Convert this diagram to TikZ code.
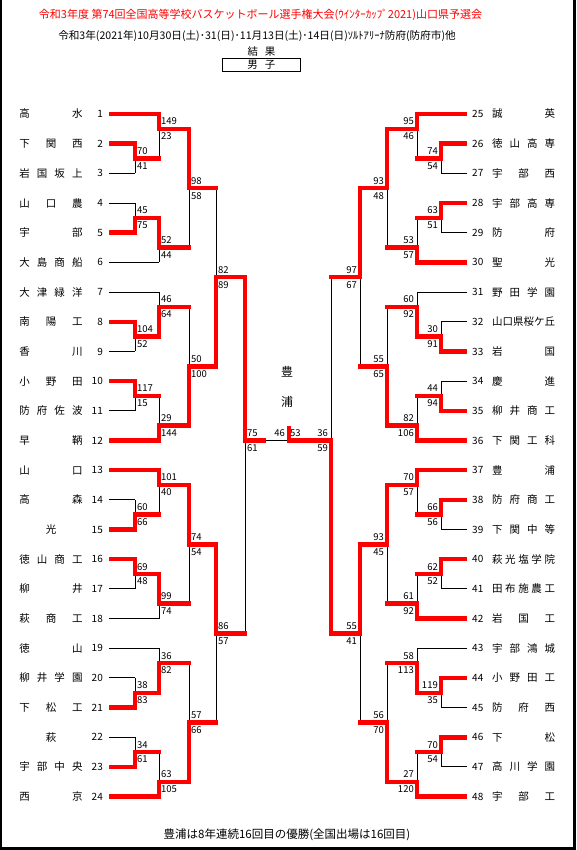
\documentclass[tikz,border=0pt]{standalone}
\usepackage{fontspec}
\setmainfont{Noto Sans CJK JP}
\definecolor{wred}{RGB}{255,0,0}
\tikzset{
  link/.style={black, line width=1pt},
  win/.style={wred, line width=4.5pt, line cap=rect, line join=miter},
  scl/.style={inner sep=0pt, font=\fontsize{9.5}{10}\selectfont},
  tname/.style={inner sep=0pt, font=\fontsize{10.5}{11}\selectfont},
  tnum/.style={inner sep=0pt, font=\fontsize{10}{11}\selectfont},
}
\newcommand\mygrp[1]{%
 \draw[link] (109,#1) -- (159,#1)
       (109,#1+2) -- (135,#1+2) (109,#1+4) -- (135,#1+4)
       (135,#1+2) -- (135,#1+4) (135,#1+3) -- (159,#1+3)
       (159,#1) -- (159,#1+3) (159,#1+1) -- (189,#1+1)
       (109,#1+6) -- (135,#1+6) (109,#1+8) -- (135,#1+8)
       (135,#1+6) -- (135,#1+8) (135,#1+7) -- (159,#1+7)
       (109,#1+10) -- (159,#1+10) (159,#1+7) -- (159,#1+10)
       (159,#1+9) -- (189,#1+9) (189,#1+1) -- (189,#1+9)
       (189,#1+5) -- (216,#1+5);}
\newcommand\myhalf{%
 \draw[link] (216,5) -- (216,17) (216,11) -- (245,11)
       (216,29) -- (216,41) (216,35) -- (245,35)
       (245,11) -- (245,35) (245,22) -- (288,22);}
\begin{document}
\begin{tikzpicture}[x=1pt,y=-1pt]
\useasboundingbox (0,0) rectangle (576,850);
\fill[black] (0,0) rectangle (1.7,850);
\fill[black] (572.7,0) rectangle (576,850);
\fill[black] (0,847.3) rectangle (576,850);

\node[font=\fontsize{11}{12}\selectfont, text=wred, inner sep=0pt] (title) at (260.5,15)
 {令和3年度 第74回全国高等学校バスケットボール選手権大会(ｳｲﾝﾀｰｶｯﾌﾟ2021)山口県予選会};
\node[font=\fontsize{10.6}{11}\selectfont, inner sep=0pt] (sub) at (257,36)
 {令和3年(2021年)10月30日(土)･31(日)･11月13日(土)･14日(日)ｿﾙﾄｱﾘｰﾅ防府(防府市)他};
\node[font=\fontsize{10.5}{11}\selectfont, inner sep=0pt] (kekka) at (261.5,52) {結\hspace{7pt}果};
\node[draw, line width=1pt, minimum width=77.3pt, minimum height=13pt, inner sep=0pt,
      font=\fontsize{10.5}{11}\selectfont] (danshi) at (261.35,64.8) {男\hspace{7pt}子};
\node[font=\fontsize{12}{13}\selectfont, inner sep=0pt] (toyo1) at (287,372) {豊};
\node[font=\fontsize{12}{13}\selectfont, inner sep=0pt] (toyo2) at (287,402) {浦};
\node[font=\fontsize{11.5}{12}\selectfont, inner sep=0pt] (foot) at (287,835)
 {豊浦は8年連続16回目の優勝(全国出場は16回目)};

% ---------- left half ----------
\begin{scope}[shift={(0pt,-114pt)}, x=1pt, y=-14.84pt]
 \foreach \R in {0,12,24,36} {\mygrp{\R}}
 \myhalf
 \foreach \i/\n in {1/{高\hfill 水},2/{下\hfill 関\hfill 西},3/{岩\hfill 国\hfill 坂\hfill 上},
   4/{山\hfill 口\hfill 農},5/{宇\hfill 部},6/{大\hfill 島\hfill 商\hfill 船},
   7/{大\hfill 津\hfill 緑\hfill 洋},8/{南\hfill 陽\hfill 工},9/{香\hfill 川},
   10/{小\hfill 野\hfill 田},11/{防\hfill 府\hfill 佐\hfill 波},12/{早\hfill 鞆},
   13/{山\hfill 口},14/{高\hfill 森},15/{\hfill 光\hfill},
   16/{徳\hfill 山\hfill 商\hfill 工},17/{柳\hfill 井},18/{萩\hfill 商\hfill 工},
   19/{徳\hfill 山},20/{柳\hfill 井\hfill 学\hfill 園},21/{下\hfill 松\hfill 工},
   22/{\hfill 萩\hfill},23/{宇\hfill 部\hfill 中\hfill 央},24/{西\hfill 京}} {
   \node[tname] (T\i) at (51,{2*(\i-1)}) {\makebox[63pt][s]{\n}};
   \node[tnum, anchor=east] (N\i) at (103,{2*(\i-1)}) {\i};
 }
 \foreach \c/\r/\a/\b in {135/3/70/41,159/1/149/23,135/7/45/75,159/9/52/44,189/5/98/58,
   135/15/104/52,159/13/46/64,135/19/117/15,159/21/29/144,189/17/50/100,
   135/27/60/66,159/25/101/40,135/31/69/48,159/33/99/74,189/29/74/54,
   135/39/38/83,159/37/36/82,135/43/34/61,159/45/63/105,189/41/57/66,
   216/11/82/89,216/35/86/57,245/22/75/61} {
   \node[scl, anchor=west] (La\c-\r) at (\c+2,\r-0.5) {\a};
   \node[scl, anchor=west] (Lb\c-\r) at (\c+2,\r+0.5) {\b};
 }
 \node[scl, anchor=east] (fin46) at (285,21.5) {46};
 \node[scl, anchor=west] (fin53) at (290,21.5) {53};
 \draw[win] (111,2)--(135,2)--(135,3)--(159,3);
 \draw[win] (111,0)--(159,0)--(159,1)--(189,1)--(189,5)--(216,5);
 \draw[win] (111,8)--(135,8)--(135,7)--(159,7)--(159,9)--(189,9);
 \draw[win] (111,14)--(135,14)--(135,15)--(159,15)--(159,13)--(189,13);
 \draw[win] (111,18)--(135,18)--(135,19)--(159,19);
 \draw[win] (111,22)--(159,22)--(159,21)--(189,21)--(189,17)--(216,17)--(216,11)--(245,11)--(245,22)--(264,22);
 \draw[win] (111,28)--(135,28)--(135,27)--(159,27);
 \draw[win] (111,24)--(159,24)--(159,25)--(189,25)--(189,29)--(216,29)--(216,35)--(245,35);
 \draw[win] (111,30)--(135,30)--(135,31)--(159,31)--(159,33)--(189,33);
 \draw[win] (111,40)--(135,40)--(135,39)--(159,39)--(159,37)--(189,37);
 \draw[win] (111,44)--(135,44)--(135,43)--(159,43);
 \draw[win] (111,46)--(159,46)--(159,45)--(189,45)--(189,41)--(216,41);
\end{scope}

% ---------- right half (mirrored) ----------
\begin{scope}[shift={(576pt,-114pt)}, x=-1pt, y=-14.84pt]
 \foreach \R in {0,12,24,36} {\mygrp{\R}}
 \myhalf
 \foreach \c/\r/\a/\b in {135/3/74/54,159/1/95/46,135/7/63/51,159/9/53/57,189/5/93/48,
   135/15/30/91,159/13/60/92,135/19/44/94,159/21/82/106,189/17/55/65,
   135/27/66/56,159/25/70/57,135/31/62/52,159/33/61/92,189/29/93/45,
   135/39/119/35,159/37/58/113,135/43/70/54,159/45/27/120,189/41/56/70,
   216/11/97/67,216/35/55/41,245/22/36/59} {
   \node[scl, anchor=east] (Ra\c-\r) at (\c+3,\r-0.5) {\a};
   \node[scl, anchor=east] (Rb\c-\r) at (\c+3,\r+0.5) {\b};
 }
 \draw[win] (111,2)--(135,2)--(135,3)--(159,3);
 \draw[win] (111,0)--(159,0)--(159,1)--(189,1)--(189,5)--(216,5)--(216,11)--(245,11);
 \draw[win] (111,6)--(135,6)--(135,7)--(159,7);
 \draw[win] (111,10)--(159,10)--(159,9)--(189,9);
 \draw[win] (111,16)--(135,16)--(135,15)--(159,15)--(159,13)--(189,13);
 \draw[win] (111,20)--(135,20)--(135,19)--(159,19);
 \draw[win] (111,22)--(159,22)--(159,21)--(189,21)--(189,17)--(216,17);
 \draw[win] (111,26)--(135,26)--(135,27)--(159,27);
 \draw[win] (111,24)--(159,24)--(159,25)--(189,25)--(189,29)--(216,29)--(216,35)--(245,35)--(245,22)--(287,22)--(287,21.15);
 \draw[win] (111,30)--(135,30)--(135,31)--(159,31);
 \draw[win] (111,34)--(159,34)--(159,33)--(189,33);
 \draw[win] (111,38)--(135,38)--(135,39)--(159,39)--(159,37)--(189,37);
 \draw[win] (111,42)--(135,42)--(135,43)--(159,43);
 \draw[win] (111,46)--(159,46)--(159,45)--(189,45)--(189,41)--(216,41);
\end{scope}

% right team names
\begin{scope}[shift={(0pt,-114pt)}, x=1pt, y=-14.84pt]
 \foreach \i/\n in {25/{誠\hfill 英},26/{徳\hfill 山\hfill 高\hfill 専},27/{宇\hfill 部\hfill 西},
   28/{宇\hfill 部\hfill 高\hfill 専},29/{防\hfill 府},30/{聖\hfill 光},
   31/{野\hfill 田\hfill 学\hfill 園},32/{山\hfill 口\hfill 県\hfill 桜\hfill ケ\hfill 丘},33/{岩\hfill 国},
   34/{慶\hfill 進},35/{柳\hfill 井\hfill 商\hfill 工},36/{下\hfill 関\hfill 工\hfill 科},
   37/{豊\hfill 浦},38/{防\hfill 府\hfill 商\hfill 工},39/{下\hfill 関\hfill 中\hfill 等},
   40/{萩\hfill 光\hfill 塩\hfill 学\hfill 院},41/{田\hfill 布\hfill 施\hfill 農\hfill 工},42/{岩\hfill 国\hfill 工},
   43/{宇\hfill 部\hfill 鴻\hfill 城},44/{小\hfill 野\hfill 田\hfill 工},45/{防\hfill 府\hfill 西},
   46/{下\hfill 松},47/{高\hfill 川\hfill 学\hfill 園},48/{宇\hfill 部\hfill 工}} {
   \node[tname] (T\i) at (523.5,{2*(\i-25)}) {\makebox[63pt][s]{\n}};
   \node[tnum, anchor=west] (N\i) at (472,{2*(\i-25)}) {\i};
 }
\end{scope}
\end{tikzpicture}
\end{document}
